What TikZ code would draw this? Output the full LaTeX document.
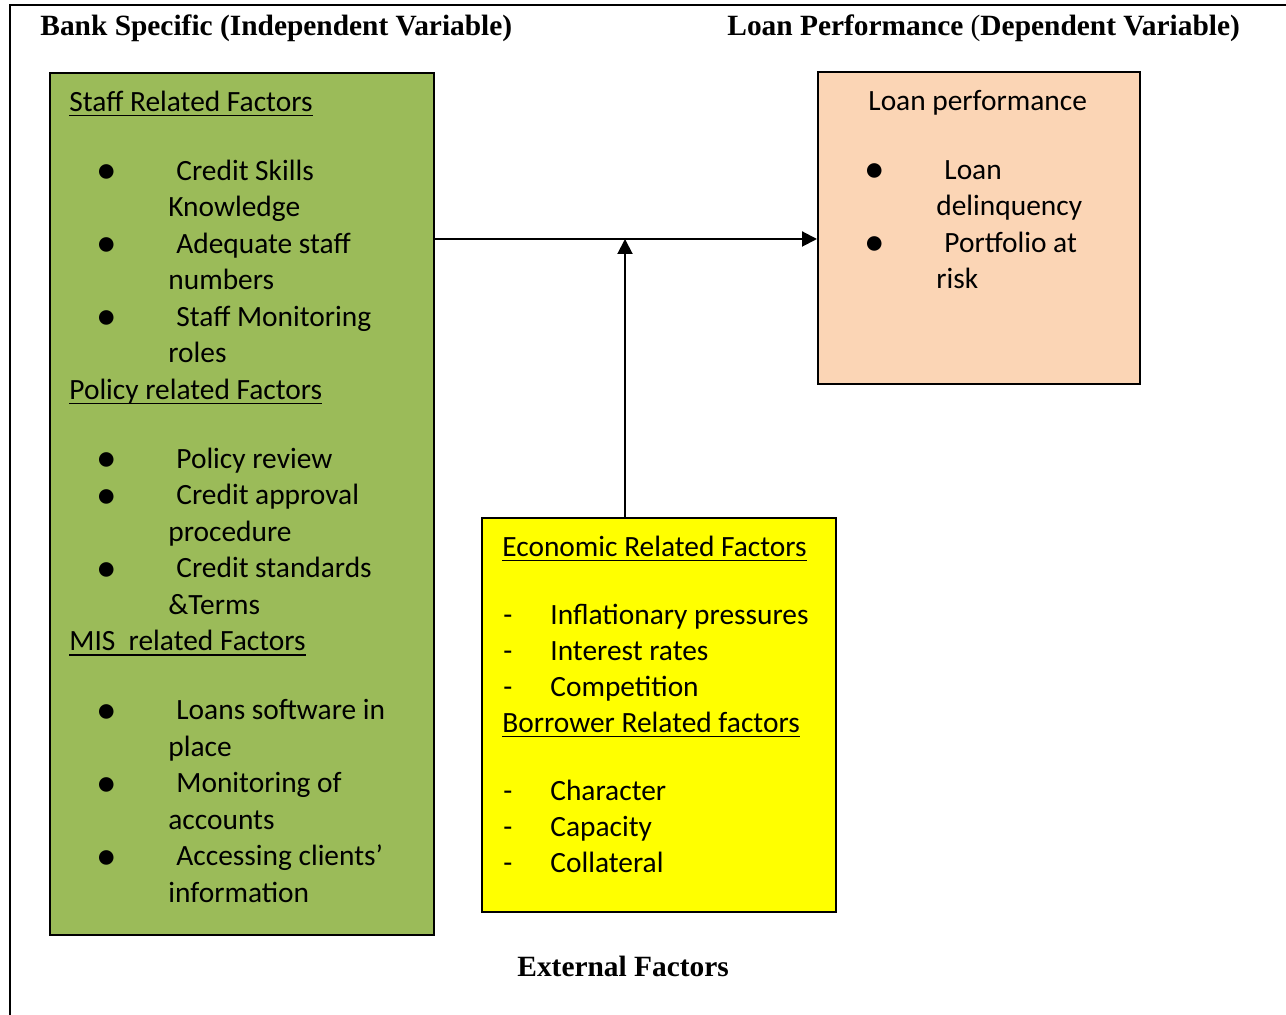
\documentclass[tikz,border=0pt]{standalone}
\usepackage{fontspec}
\usepackage{graphicx}
\setmainfont{Liberation Serif}
\newfontfamily\calibri{Carlito}
\usetikzlibrary{arrows.meta}

% list helpers for the box texts
\newcommand{\headstrut}{\rule{0pt}{13pt}}
\newcommand{\hd}[1]{\setbox0\hbox{#1}\rlap{\rule[-2.4pt]{\wd0}{0.7pt}}\box0}
\newcommand{\bigdot}{\smash{\raisebox{-1.6pt}{\scalebox{1.4}{\textbullet}}}}
\newcommand{\bul}[2]{\hspace*{#1}\makebox[38pt][l]{\hspace*{-1.8pt}\bigdot}#2}
\newcommand{\cont}[2]{\hspace*{#1}\hspace*{34pt}#2}
\newcommand{\dashitem}[1]{\hspace*{0.5pt}\makebox[23.5pt][l]{-}#1}

\begin{document}
\begin{tikzpicture}[x=0.5pt,y=-0.5pt,
  box/.style={draw,line width=1pt,anchor=north west,inner sep=0pt},
  txt/.style={anchor=north west,inner sep=0pt,align=left,
    font=\calibri\fontsize{14.7}{18.25}\selectfont},
  title/.style={anchor=base west,inner sep=0pt,
    font=\bfseries\fontsize{14.7}{17}\selectfont},
  arr/.style={line width=1pt,-{Triangle[length=7.5pt,width=7.5pt]}}]
\useasboundingbox (0,0) rectangle (1286,1015);
\draw[line width=0.9pt] (10,1030) -- (10,5) -- (1300,5);

% headings
\node[title] (indep) at (40,36) {Bank Specific (Independent Variable)};
\node[title] (dep) at (727,36) {Loan Performance \textmd{(}Dependent Variable)};
\node[title] (ext) at (517,976) {External Factors};

% boxes
\node[box,fill={rgb,255:red,155;green,187;blue,89},minimum width=192pt,minimum height=431pt] (staff) at (49,72) {};
\node[box,fill={rgb,255:red,251;green,213;blue,181},minimum width=161pt,minimum height=156pt] (perf) at (817,71) {};
\node[box,fill={rgb,255:red,255;green,255;blue,0},minimum width=177pt,minimum height=197pt] (econ) at (481,517) {};

% box texts
\node[txt] (stafftext) at (69,85) {\hd{Staff Related Factors}\headstrut\\[16.25pt]
  \bul{15.5pt}{Credit Skills}\\
  \cont{15.5pt}{Knowledge}\\
  \bul{15.5pt}{Adequate staff}\\
  \cont{15.5pt}{numbers}\\
  \bul{15.5pt}{Staff Monitoring}\\
  \cont{15.5pt}{roles}\\
  \hd{Policy related Factors}\\[16.25pt]
  \bul{15.5pt}{Policy review}\\
  \bul{15.5pt}{Credit approval}\\
  \cont{15.5pt}{procedure}\\
  \bul{15.5pt}{Credit standards}\\
  \cont{15.5pt}{\&Terms}\\
  \hd{MIS~~related Factors}\\[16.25pt]
  \bul{15.5pt}{Loans software in}\\
  \cont{15.5pt}{place}\\
  \bul{15.5pt}{Monitoring of}\\
  \cont{15.5pt}{accounts}\\
  \bul{15.5pt}{Accessing clients’}\\
  \cont{15.5pt}{information}};
\node[txt] (perftext) at (868,84) {Loan performance\headstrut\\[16.25pt]
  \bul{0pt}{Loan}\\
  \cont{0pt}{delinquency}\\
  \bul{0pt}{Portfolio at}\\
  \cont{0pt}{risk}};
\node[txt,font=\calibri\fontsize{14.7}{18}\selectfont] (econtext) at (502,530) {\hd{Economic Related Factors}\headstrut\\[16pt]
  \dashitem{Inflationary pressures}\\
  \dashitem{Interest rates}\\
  \dashitem{Competition}\\
  \hd{Borrower Related factors}\\[16pt]
  \dashitem{Character}\\
  \dashitem{Capacity}\\
  \dashitem{Collateral}};

% connectors
\coordinate (link) at (625,239);
\draw[arr] (staff.east |- link) -- (perf.west |- link);
\draw[arr] (econ.north -| link) -- (link);
\end{tikzpicture}
\end{document}
